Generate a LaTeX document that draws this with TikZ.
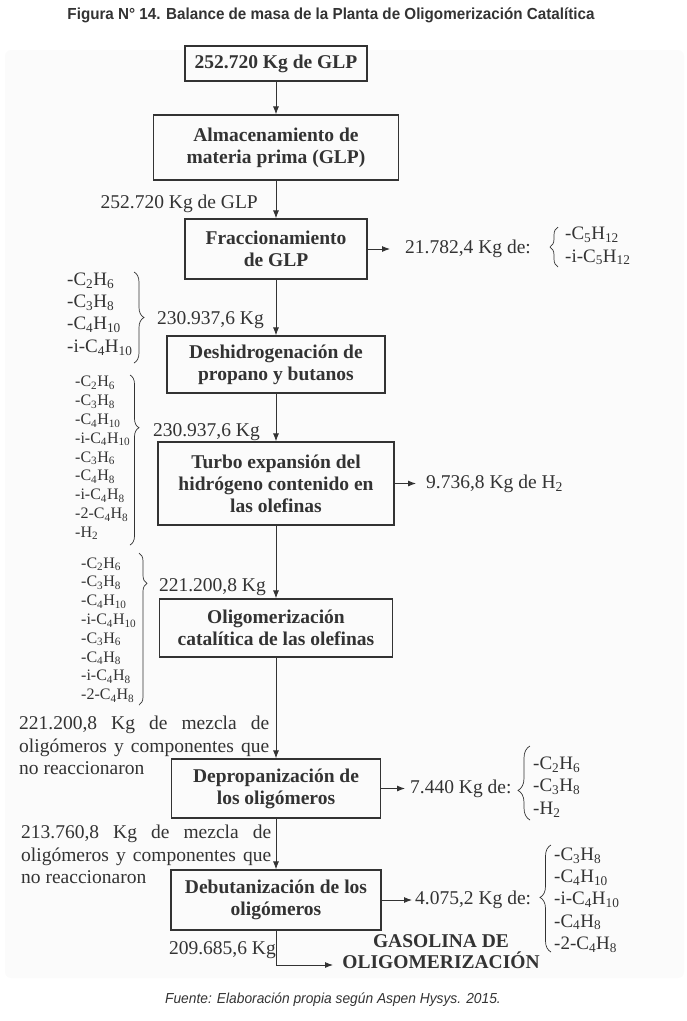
\documentclass[tikz,border=0pt]{standalone}
\usepackage{fontspec}
\setmainfont{Liberation Serif}
\newfontfamily\capfont{Liberation Sans}[FakeStretch=0.95]
\usetikzlibrary{arrows.meta,decorations.pathreplacing}
\definecolor{ink}{HTML}{333333}
\newcommand{\sbs}[1]{\textsubscript{#1}}
\tikzset{
  box/.style={draw=ink, line width=1.2pt, align=center, inner sep=2pt,
    font=\bfseries\fontsize{19.5}{22}\selectfont},
  flow/.style={draw=ink, line width=0.9pt, -{Latex[length=8pt,width=6pt]}},
  lbl/.style={inner sep=0pt, font=\fontsize{19.5}{22.5}\selectfont},
  chem/.style={inner sep=0pt, align=left, font=\fontsize{19}{22.3}\selectfont},
  chems/.style={inner sep=0pt, align=left, font=\fontsize{16}{18.8}\selectfont},
  brc/.style 2 args={draw=ink, line width=0.7pt, decorate,
    decoration={brace, amplitude=#1, aspect=#2}},
}
\begin{document}
\begin{tikzpicture}[x=1pt, y=-1pt, text=ink]
  \useasboundingbox (0,0) rectangle (687,1021);
  \fill[black!1.5, rounded corners=6pt] (5,50) rectangle (684,978);
  \node[font=\capfont\bfseries\fontsize{16}{19}\selectfont] (title) at (331,15)
    {Figura N° 14. Balance de masa de la Planta de Oligomerización Catalítica};

  \node[box, minimum width=182, minimum height=35] (glp) at (276,63.5) {252.720 Kg de GLP};
  \node[box, minimum width=245, minimum height=65] (alm) at (276,147.5) {Almacenamiento de\\materia prima (GLP)};
  \node[box, minimum width=182, minimum height=60] (frac) at (276,249) {Fraccionamiento\\de GLP};
  \node[box, minimum width=218, minimum height=57] (desh) at (276,364.5) {Deshidrogenación de\\propano y butanos};
  \node[box, minimum width=236, minimum height=83] (turbo) at (276,483.5) {Turbo expansión del\\hidrógeno contenido en\\las olefinas};
  \node[box, minimum width=233, minimum height=58] (olig) at (276,628) {Oligomerización\\catalítica de las olefinas};
  \node[box, minimum width=209, minimum height=59] (depro) at (276,788.5) {Depropanización de\\los oligómeros};
  \node[box, minimum width=210, minimum height=60] (debut) at (276,900) {Debutanización de los\\oligómeros};

  \draw[flow] (glp) -- (alm);
  \draw[flow] (alm) -- (frac);
  \draw[flow] (frac) -- (desh);
  \draw[flow] (desh) -- (turbo);
  \draw[flow] (turbo) -- (olig);
  \draw[flow] (olig) -- (depro);
  \draw[flow] (depro) -- (debut);

  \node[lbl, anchor=east] (m2) at (258,204) {252.720 Kg de GLP};
  \node[lbl, anchor=east] (m3) at (264,320) {230.937,6 Kg};
  \node[lbl, anchor=east] (m4) at (260,432) {230.937,6 Kg};
  \node[lbl, anchor=east] (m5) at (266,587) {221.200,8 Kg};
  \node[lbl, text width=250, align=justify, anchor=north west] (m6) at (19,716)
    {221.200,8 Kg de mezcla de\linebreak oligómeros y componentes que\linebreak no reaccionaron};
  \node[lbl, text width=250, align=justify, anchor=north west] (m7) at (21,825)
    {213.760,8 Kg de mezcla de\linebreak oligómeros y componentes que\linebreak no reaccionaron};
  \node[lbl, anchor=east] (m8) at (276,950) {209.685,6 Kg};

  \node[chem, anchor=west] (k3) at (67,314) {-C\sbs{2}H\sbs{6}\\-C\sbs{3}H\sbs{8}\\-C\sbs{4}H\sbs{10}\\-i-C\sbs{4}H\sbs{10}};
  \node[chems, anchor=west] (k4) at (75,458) {-C\sbs{2}H\sbs{6}\\-C\sbs{3}H\sbs{8}\\-C\sbs{4}H\sbs{10}\\-i-C\sbs{4}H\sbs{10}\\-C\sbs{3}H\sbs{6}\\-C\sbs{4}H\sbs{8}\\-i-C\sbs{4}H\sbs{8}\\-2-C\sbs{4}H\sbs{8}\\-H\sbs{2}};
  \node[chems, anchor=west] (k5) at (81,630) {-C\sbs{2}H\sbs{6}\\-C\sbs{3}H\sbs{8}\\-C\sbs{4}H\sbs{10}\\-i-C\sbs{4}H\sbs{10}\\-C\sbs{3}H\sbs{6}\\-C\sbs{4}H\sbs{8}\\-i-C\sbs{4}H\sbs{8}\\-2-C\sbs{4}H\sbs{8}};
  \draw[brc={10}{0.5}] (134,272) -- (134,363);
  \draw[brc={9}{0.31}] (130,375) -- (130,545);
  \draw[brc={8}{0.2}] (139,553) -- (139,705);

  \node[lbl, anchor=west] (o3) at (405,249) {21.782,4 Kg de:};
  \node[lbl, anchor=west] (o5) at (426,483.5) {9.736,8 Kg de H\sbs{2}};
  \node[lbl, anchor=west] (o7) at (410,788.5) {7.440 Kg de:};
  \node[lbl, anchor=west] (o8) at (415,900) {4.075,2 Kg de:};
  \draw[flow, shorten >=15pt] (frac) -- (o3);
  \draw[flow, shorten >=10pt] (turbo) -- (o5);
  \draw[flow, shorten >=5pt] (depro) -- (o7);
  \draw[flow, shorten >=3pt] (debut) -- (o8);

  \node[chem, anchor=west] (r3) at (565,246) {-C\sbs{5}H\sbs{12}\\-i-C\sbs{5}H\sbs{12}};
  \node[chem, anchor=west] (r7) at (533,787) {-C\sbs{2}H\sbs{6}\\-C\sbs{3}H\sbs{8}\\-H\sbs{2}};
  \node[chem, anchor=west] (r8) at (554,900) {-C\sbs{3}H\sbs{8}\\-C\sbs{4}H\sbs{10}\\-i-C\sbs{4}H\sbs{10}\\-C\sbs{4}H\sbs{8}\\-2-C\sbs{4}H\sbs{8}};
  \draw[brc={8}{0.5}] (558,267) -- (558,227);
  \draw[brc={12}{0.4}] (530,820) -- (530,746);
  \draw[brc={11}{0.51}] (551,952) -- (551,845);

  \node[font=\bfseries\fontsize{19.5}{21}\selectfont, align=center, inner sep=0pt] (gas) at (441,952)
    {GASOLINA DE\\OLIGOMERIZACIÓN};
  \coordinate (gasin) at (333,965);
  \draw[flow] (debut) |- (gasin);

  \node[font=\capfont\itshape\fontsize{14.5}{17}\selectfont] (src) at (333,1000)
    {Fuente: Elaboración propia según Aspen Hysys. 2015.};
\end{tikzpicture}
\end{document}
